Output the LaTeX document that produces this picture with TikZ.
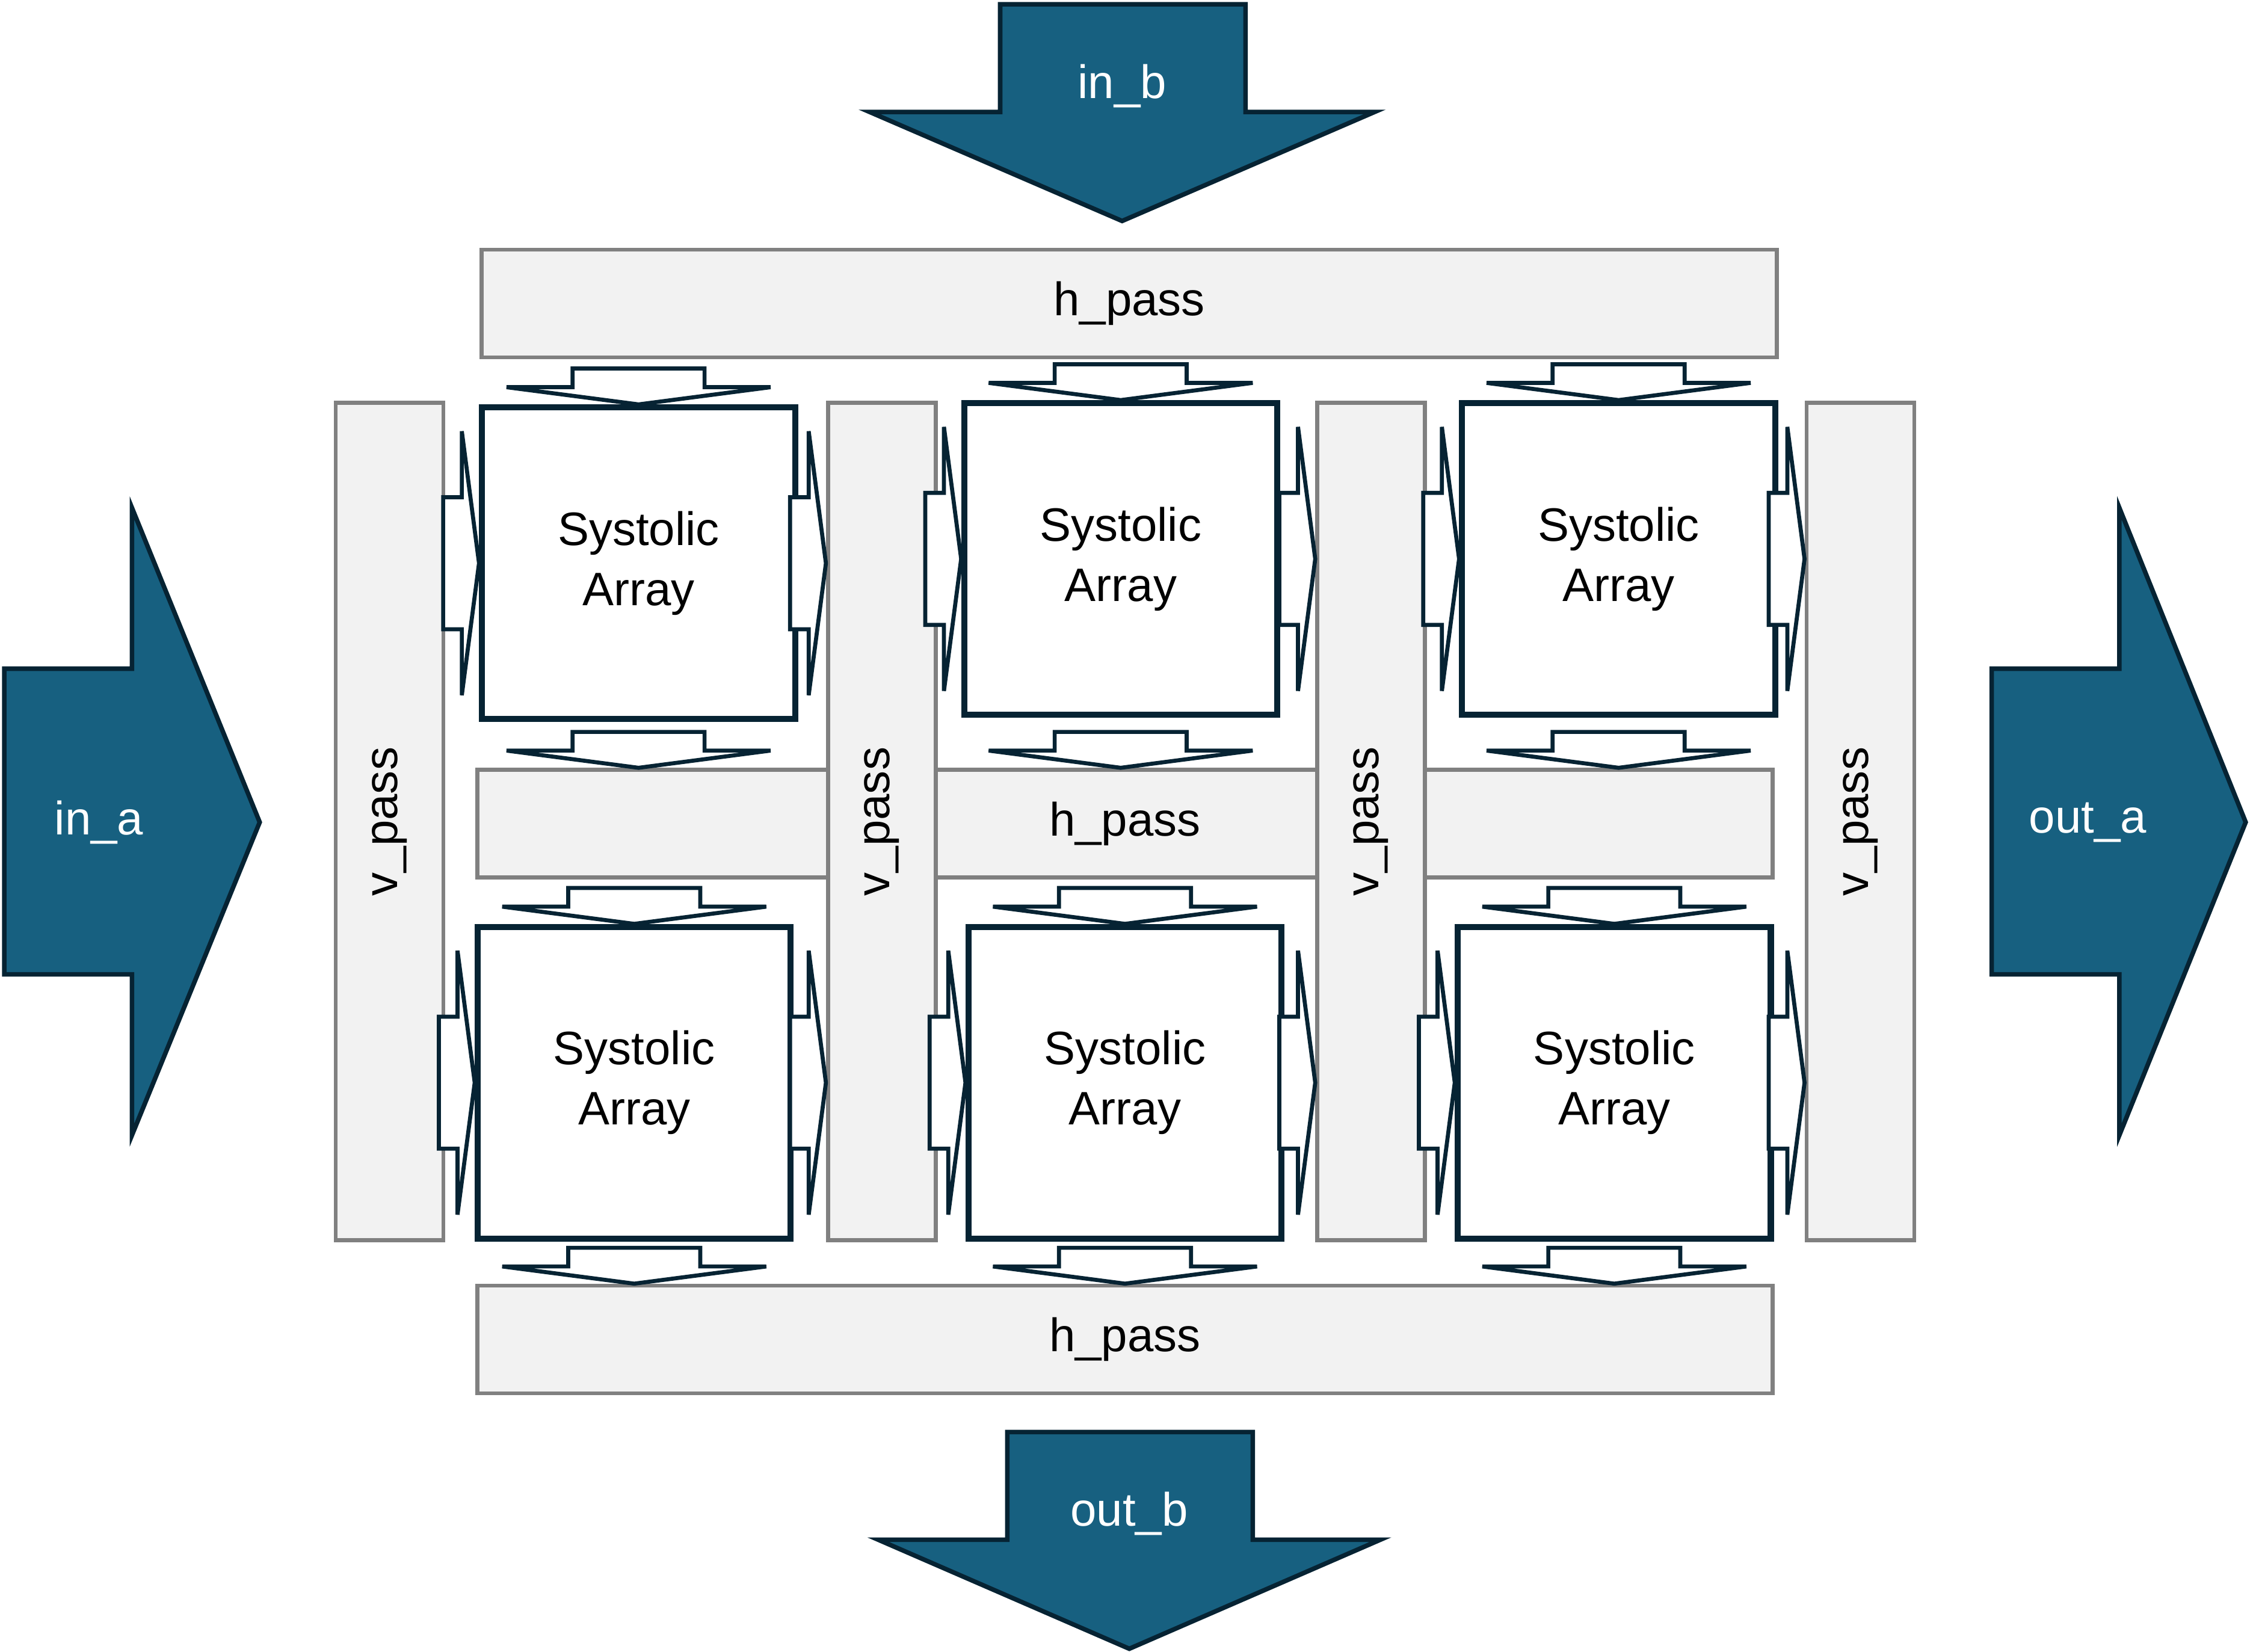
\documentclass[tikz,border=0pt]{standalone}
\usepackage{fontspec}
\setmainfont{Liberation Sans}
\usepackage{graphicx}
\definecolor{arrowblue}{RGB}{23,96,128}
\definecolor{inkdark}{RGB}{6,35,51}
\definecolor{passfill}{RGB}{242,242,242}
\definecolor{passline}{RGB}{128,128,128}

\begin{document}
\begin{tikzpicture}[x=0.01cm,y=-0.01cm,font=\fontsize{9.3}{11.9}\selectfont,
   pass/.style={draw=passline,fill=passfill,line width=0.8pt,inner sep=0pt},
   sa/.style={draw=inkdark,fill=white,line width=1.2pt,minimum width=2.18cm,minimum height=2.17cm,align=center,inner sep=0pt},
   flow/.style={draw=inkdark,fill=white,line width=0.8pt,line join=miter},
   big/.style={draw=inkdark,fill=arrowblue,line width=0.9pt,line join=miter},
   bigtext/.style={text=white,inner sep=0pt},
   sarr/.pic={\draw[flow] (0,0) -- (92,-12) -- (46,-12) -- (46,-25) -- (-46,-25) -- (-46,-12) -- (-92,-12) -- cycle;}]
   \useasboundingbox (0,0) rectangle (1568,1151);

   \node[pass,minimum width=9.02cm,minimum height=0.75cm] (hpT) at (787,211.5) {h\_pass};
   \node[pass,minimum width=9.02cm,minimum height=0.75cm] (hpM) at (784,574) {h\_pass};
   \node[pass,minimum width=9.02cm,minimum height=0.75cm] (hpB) at (784,933.5) {h\_pass};
   \node[pass,minimum width=0.75cm,minimum height=5.83cm] (vp1) at (271.5,572.5) {\rotatebox{90}{v\_pass}};
   \node[pass,minimum width=0.75cm,minimum height=5.83cm] (vp2) at (614.5,572.5) {\rotatebox{90}{v\_pass}};
   \node[pass,minimum width=0.75cm,minimum height=5.83cm] (vp3) at (955.5,572.5) {\rotatebox{90}{v\_pass}};
   \node[pass,minimum width=0.75cm,minimum height=5.83cm] (vp4) at (1296.5,572.5) {\rotatebox{90}{v\_pass}};

   \node[sa] (sa11) at (445,392.5) {Systolic\\Array};
   \node[sa] (sa12) at (781,389.5) {Systolic\\Array};
   \node[sa] (sa13) at (1128,389.5) {Systolic\\Array};
   \node[sa] (sa21) at (442,754.5) {Systolic\\Array};
   \node[sa] (sa22) at (784,754.5) {Systolic\\Array};
   \node[sa] (sa23) at (1125,754.5) {Systolic\\Array};

   \pic at (sa11.north) {sarr};
   \pic at (sa12.north) {sarr};
   \pic at (sa13.north) {sarr};
   \pic at (sa21.north) {sarr};
   \pic at (sa22.north) {sarr};
   \pic at (sa23.north) {sarr};
   \pic at (sa11 |- hpM.north) {sarr};
   \pic at (sa12 |- hpM.north) {sarr};
   \pic at (sa13 |- hpM.north) {sarr};
   \pic at (sa21 |- hpB.north) {sarr};
   \pic at (sa22 |- hpB.north) {sarr};
   \pic at (sa23 |- hpB.north) {sarr};
   \pic[rotate=90] at (sa11.west) {sarr};
   \pic[rotate=90] at (sa12.west) {sarr};
   \pic[rotate=90] at (sa13.west) {sarr};
   \pic[rotate=90] at (sa21.west) {sarr};
   \pic[rotate=90] at (sa22.west) {sarr};
   \pic[rotate=90] at (sa23.west) {sarr};
   \pic[rotate=90] at (vp2.west |- sa11) {sarr};
   \pic[rotate=90] at (vp3.west |- sa12) {sarr};
   \pic[rotate=90] at (vp4.west |- sa13) {sarr};
   \pic[rotate=90] at (vp2.west |- sa21) {sarr};
   \pic[rotate=90] at (vp3.west |- sa22) {sarr};
   \pic[rotate=90] at (vp4.west |- sa23) {sarr};

   \draw[big] (697,3) -- (868,3) -- (868,78) -- (958,78) -- (782,154) -- (606,78) -- (697,78) -- cycle;
   \node[bigtext] (inb) at (782,60) {in\_b};
   \draw[big] (3,466) -- (92,466) -- (92,354) -- (181,573) -- (92,791) -- (92,679) -- (3,679) -- cycle;
   \node[bigtext] (ina) at (69,573) {in\_a};
   \draw[big] (1388,466) -- (1477,466) -- (1477,354) -- (1565,573) -- (1477,791) -- (1477,679) -- (1388,679) -- cycle;
   \node[bigtext] (outa) at (1455,573) {out\_a};
   \draw[big] (702,998) -- (873,998) -- (873,1073) -- (962,1073) -- (787,1149) -- (612,1073) -- (702,1073) -- cycle;
   \node[bigtext] (outb) at (787,1055) {out\_b};
\end{tikzpicture}
\end{document}
